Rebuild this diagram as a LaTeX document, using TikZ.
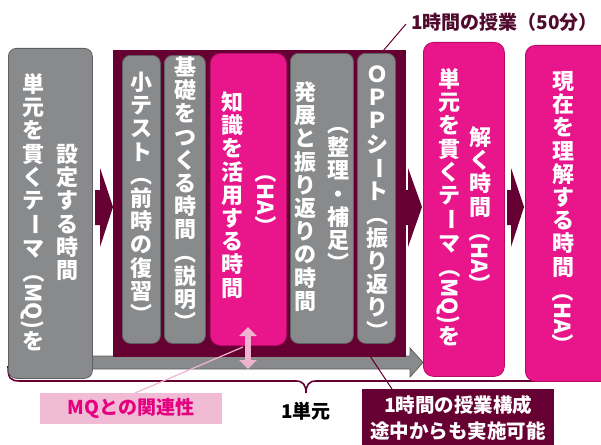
\documentclass[tikz,border=0pt]{standalone}
\usepackage{fontspec}
\setmainfont{Noto Sans CJK JP}
\usepackage{graphicx}
\usetikzlibrary{arrows.meta}
\definecolor{wine}{RGB}{102,0,51}
\definecolor{grayf}{RGB}{137,138,140}
\definecolor{graybd}{RGB}{95,95,98}
\definecolor{pinkf}{RGB}{233,21,139}
\definecolor{pinkbd}{RGB}{185,10,105}
\definecolor{lpink}{RGB}{241,187,213}
\definecolor{lpinkar}{RGB}{240,180,208}
\definecolor{magtext}{RGB}{228,0,127}
\definecolor{titlec}{RGB}{80,10,45}
\makeatletter
\newlength\tgap \setlength\tgap{1.2pt}
\newcommand\tate[1]{\vbox{\offinterlineskip\@tfor\tch:=#1\do{\hbox to 1em{\hss\vrule height .88em depth .12em width 0pt\tch\hss}\kern\tgap}}}
\newcommand\rot[1]{\raisebox{.82em}{\rotatebox{-90}{#1}}}
\makeatother
\begin{document}
\begin{tikzpicture}[x=1pt,y=-1pt,
  graybox/.style={draw=graybd, fill=grayf, rounded corners=8pt, line width=0.8pt, anchor=north west, inner sep=0pt},
  pinkbox/.style={draw=pinkbd, fill=pinkf, rounded corners=10pt, line width=0.8pt, anchor=north west, inner sep=0pt},
  col/.style={inner sep=0pt, anchor=north, text=white, font=\bfseries\fontsize{22}{22}\selectfont},
  blockarrow/.style={fill=wine, draw=none},
  leader/.style={wine, line width=1pt}]
\useasboundingbox (0,0) rectangle (601,444);
% brace
\draw[wine, line width=1.6pt] (8,366) .. controls (8,378) and (10,381) .. (20,381) -- (296,381)
  .. controls (303,381) and (306,385) .. (306,393) .. controls (306,385) and (309,381) .. (316,381)
  -- (588,381) .. controls (596,381) and (599,378) .. (599,368);
% gray long arrow
\draw[fill=grayf, draw=graybd, line width=0.8pt] (88,356) -- (410,356) -- (410,348) -- (423,362.5) -- (410,377) -- (410,369) -- (88,369) -- cycle;
% left gray box
\node[graybox, minimum width=84pt, minimum height=330pt] (setbox) at (8,48) {};
% maroon container
\node[fill=wine, draw=wine, anchor=north west, inner sep=0pt, minimum width=292pt, minimum height=306pt] (lesson) at (113,50) {};
\node[graybox, minimum width=38pt, minimum height=288pt] (quiz) at (122,55) {};
\node[graybox, minimum width=41pt, minimum height=288pt] (basic) at (164,55) {};
\node[pinkbox, minimum width=76pt, minimum height=292pt] (apply) at (210,53) {};
\node[graybox, minimum width=63pt, minimum height=290pt] (develop) at (290,53) {};
\node[graybox, minimum width=38pt, minimum height=290pt] (opp) at (357,53) {};
% block arrows
\fill[blockarrow] (95,190) -- (100,190) -- (100,168) -- (113,207) -- (100,247) -- (100,225) -- (95,225) -- cycle;
\fill[blockarrow] (404,190) -- (408,190) -- (408,168) -- (422,207) -- (408,247) -- (408,225) -- (404,225) -- cycle;
\fill[blockarrow] (507,190) -- (511,190) -- (511,168) -- (524,207) -- (511,247) -- (511,225) -- (507,225) -- cycle;
% pink boxes
\node[pinkbox, minimum width=81pt, minimum height=334pt] (solve) at (423,42) {};
\node[pinkbox, minimum width=95pt, minimum height=336pt] (now) at (525,45) {};
% texts
\node[col] (t1a) at (33,73) {\tate{単元を貫くテ{\rot{ー}}マ{\rot{（MQ)}}を}};
\node[col] (t1b) at (67,143) {\tate{設定する時間}};
\node[col] (t2) at (141,71) {\tate{小テスト︵前時の復習︶}};
\node[col] (t3) at (185,56) {\tate{基礎をつくる時間︵説明︶}};
\node[col] (t4a) at (232,91) {\tate{知識を活用する時間}};
\node[col] (t4b) at (266,160) {\tate{{\rot{（HA）}}}};
\node[col] (t5a) at (305,81) {\tate{発展と振り返りの時間}};
\node[col] (t5b) at (338,113) {\tate{︵整理・補足︶}};
\node[col] (t6) at (377,63) {\tate{ＯＰＰシ{\rot{ー}}ト︵振り返り︶}};
\node[col] (t7a) at (449,68) {\tate{単元を貫くテ{\rot{ー}}マ{\rot{（MQ)}}を}};
\node[col] (t7b) at (480,126) {\tate{解く時間{\rot{（HA）}}}};
\node[col] (t8) at (563,70) {\tate{現在を理解する時間{\rot{（HA）}}}};
% double arrow
\coordinate (dtop) at (248,327);
\coordinate (dbot) at (248,369);
\draw[lpinkar, line width=6pt, {Triangle[width=17pt,length=9pt]}-{Triangle[width=17pt,length=9pt]}] (dtop) -- (dbot);
% labels
\node[anchor=west, text=titlec, font=\bfseries\fontsize{19}{19}\selectfont, inner sep=0pt] (title) at (411,22) {1時間の授業（50分）};
\coordinate (tl1) at (383,51);
\coordinate (tl2) at (406,24);
\draw[leader] (tl1) -- (tl2);
\node[fill=wine, text=white, align=center, anchor=north west, inner sep=0pt, minimum width=192pt, minimum height=57pt, font=\bfseries\fontsize{19.5}{26}\selectfont] (struct) at (362,389) {1時間の授業構成\\途中からも実施可能};
\coordinate (sl1) at (370,356);
\draw[leader] (sl1) -- (struct.north west -| 392,0);
\node[fill=lpink, text=magtext, anchor=north west, inner sep=0pt, minimum width=182pt, minimum height=31pt, font=\bfseries\fontsize{19}{19}\selectfont] (mq) at (40,393) {MQとの関連性};
\coordinate (ml1) at (243,347);
\draw[lpinkar, line width=1.2pt] (ml1) -- (mq.north -| 135,0);
\node[font=\bfseries\fontsize{19}{19}\selectfont, inner sep=0pt] (unit) at (306,411) {1単元};
\end{tikzpicture}
\end{document}
